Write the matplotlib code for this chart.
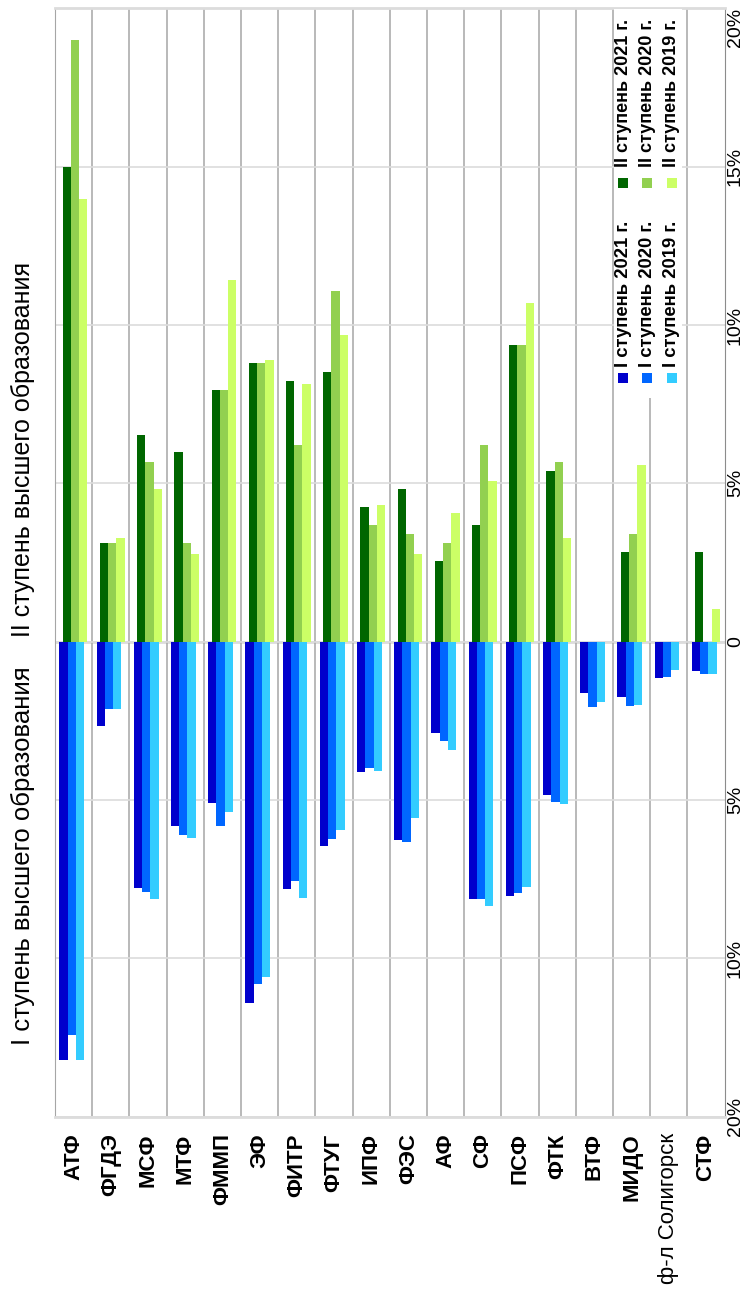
import matplotlib
matplotlib.use("Agg")
import matplotlib.pyplot as plt
from matplotlib.patches import Rectangle
import numpy as np

plt.rcParams["font.family"] = ["Liberation Sans", "DejaVu Sans"]

# faculties (categories)
faculties = ["АТФ", "ФГДЭ", "МСФ", "МТФ", "ФММП", "ЭФ", "ФИТР", "ФТУГ", "ИПФ",
             "ФЭС", "АФ", "СФ", "ПСФ", "ФТК", "ВТФ", "МИДО", "ф-л Солигорск", "СТФ"]

# I ступень, share in %, drawn downward
stage1_2021 = [13.2, 2.65, 7.77, 5.82, 5.08, 11.4, 7.8, 6.45, 4.11,
               6.25, 2.88, 8.11, 8.02, 4.83, 1.61, 1.74, 1.16, 0.93]
stage1_2020 = [12.42, 2.14, 7.92, 6.1, 5.82, 10.8, 7.55, 6.23, 4.0,
               6.33, 3.14, 8.11, 7.95, 5.07, 2.05, 2.02, 1.12, 1.03]
stage1_2019 = [13.2, 2.14, 8.11, 6.2, 5.37, 10.58, 8.08, 5.94, 4.08,
               5.58, 3.42, 8.34, 7.74, 5.14, 1.89, 1.99, 0.9, 1.03]

# II ступень, share in %, drawn upward
stage2_2021 = [15.0, 3.13, 6.52, 5.98, 7.95, 8.81, 8.24, 8.53, 4.24,
               4.82, 2.56, 3.67, 9.36, 5.4, 0, 2.84, 0, 2.84]
stage2_2020 = [19.0, 3.13, 5.68, 3.13, 7.95, 8.81, 6.22, 11.07, 3.67,
               3.39, 3.13, 6.22, 9.36, 5.68, 0, 3.39, 0, 0]
stage2_2019 = [13.97, 3.28, 4.82, 2.78, 11.42, 8.91, 8.14, 9.67, 4.31,
               2.78, 4.06, 5.07, 10.69, 3.28, 0, 5.59, 0, 1.02]

value_ticks = [-15, -10, -5, 0, 5, 10, 15, 20]
value_tick_labels = ["20%", "10%", "5%", "0", "5%", "10%", "15%", "20%"]

stage1_labels = ["I ступень 2021 г.", "I ступень 2020 г.", "I ступень 2019 г."]
stage2_labels = ["II ступень 2021 г.", "II ступень 2020 г.", "II ступень 2019 г."]
stage1_colors = ["#0000CC", "#0066FF", "#33CCFF"]
stage2_colors = ["#006600", "#92D050", "#CCFF66"]

W, H = 746, 1293


def fx(px):
    return px / W


def fy(py):
    return 1 - py / H


fig = plt.figure(figsize=(W / 100, H / 100), dpi=100)
ax = fig.add_axes([fx(55), fy(1116.7), (724.7 - 55) / W, (1116.7 - 8.3) / H])

x = np.arange(len(faculties))
width = 0.222
blue_offsets = [-0.272, -0.05, 0.172]
green_offsets = [-0.182, 0.04, 0.262]

for vals, off, col in zip([stage1_2021, stage1_2020, stage1_2019], blue_offsets, stage1_colors):
    ax.bar(x + off, -np.array(vals), width=width, color=col, linewidth=0, zorder=3)
for vals, off, col in zip([stage2_2021, stage2_2020, stage2_2019], green_offsets, stage2_colors):
    ax.bar(x + off, vals, width=width, color=col, linewidth=0, zorder=3)

ax.set_xlim(-0.5, len(faculties) - 0.5)
ax.set_ylim(-15, 20)

# grid
ax.set_yticks(value_ticks)
ax.grid(axis="y", color="#dcdcdc", linewidth=1.2, zorder=0)
ax.axhline(0, color="#dcdcdc", linewidth=2, zorder=1)
for b in np.arange(0.5, len(faculties) - 0.5):
    ax.axvline(b, color="#a6a6a6", linewidth=1.1, zorder=1)

ax.spines["left"].set_color("#a6a6a6")
ax.spines["right"].set_color("#8c8c8c")
ax.spines["top"].set_color("#dcdcdc")
ax.spines["bottom"].set_color("#dcdcdc")
ax.spines["top"].set_linewidth(2)
ax.spines["bottom"].set_linewidth(2)

# category labels, rotated
ax.set_xticks(x)
ax.set_xticklabels(faculties, rotation=90, fontsize=16, fontweight="bold")
for lbl in ax.get_xticklabels():
    if lbl.get_text().startswith("ф-л"):
        lbl.set_fontweight("normal")
ax.tick_params(axis="x", length=0, pad=12)

# value labels on the right, rotated
ax.yaxis.tick_right()
ax.set_yticklabels(value_tick_labels, fontsize=14)
ax.tick_params(axis="y", length=0, pad=1.5)
for lbl in ax.get_yticklabels():
    lbl.set_rotation(90)
    lbl.set_ha("left")
    lbl.set_va("center")
ax.get_yticklabels()[-1].set_va("top")

# legend, drawn by hand because it is rotated
fig.add_artist(Rectangle((fx(614), fy(398)), (682 - 614) / W, (398 - 9.5) / H,
                         transform=fig.transFigure, facecolor="white", edgecolor="none", zorder=4))
row_x = [623, 647, 671.5]
for i in range(3):
    cx = row_x[i]
    fig.add_artist(Rectangle((fx(cx - 5), fy(383)), 10 / W, 10 / H, transform=fig.transFigure,
                             facecolor=stage1_colors[i], edgecolor="none", zorder=5))
    fig.text(fx(cx), fy(367), stage1_labels[i], rotation=90, ha="center", va="bottom",
             fontsize=13.3, fontweight="bold", zorder=5)
    fig.add_artist(Rectangle((fx(cx - 5), fy(188)), 10 / W, 10 / H, transform=fig.transFigure,
                             facecolor=stage2_colors[i], edgecolor="none", zorder=5))
    fig.text(fx(cx), fy(167), stage2_labels[i], rotation=90, ha="center", va="bottom",
             fontsize=13, fontweight="bold", zorder=5)

# rotated title
fig.text(fx(23), fy(1045), "I ступень высшего образования", rotation=90,
         ha="center", va="bottom", fontsize=18.5)
fig.text(fx(23), fy(637), "II ступень высшего образования", rotation=90,
         ha="center", va="bottom", fontsize=18)

fig.savefig("out.png", dpi=100)
plt.close(fig)
